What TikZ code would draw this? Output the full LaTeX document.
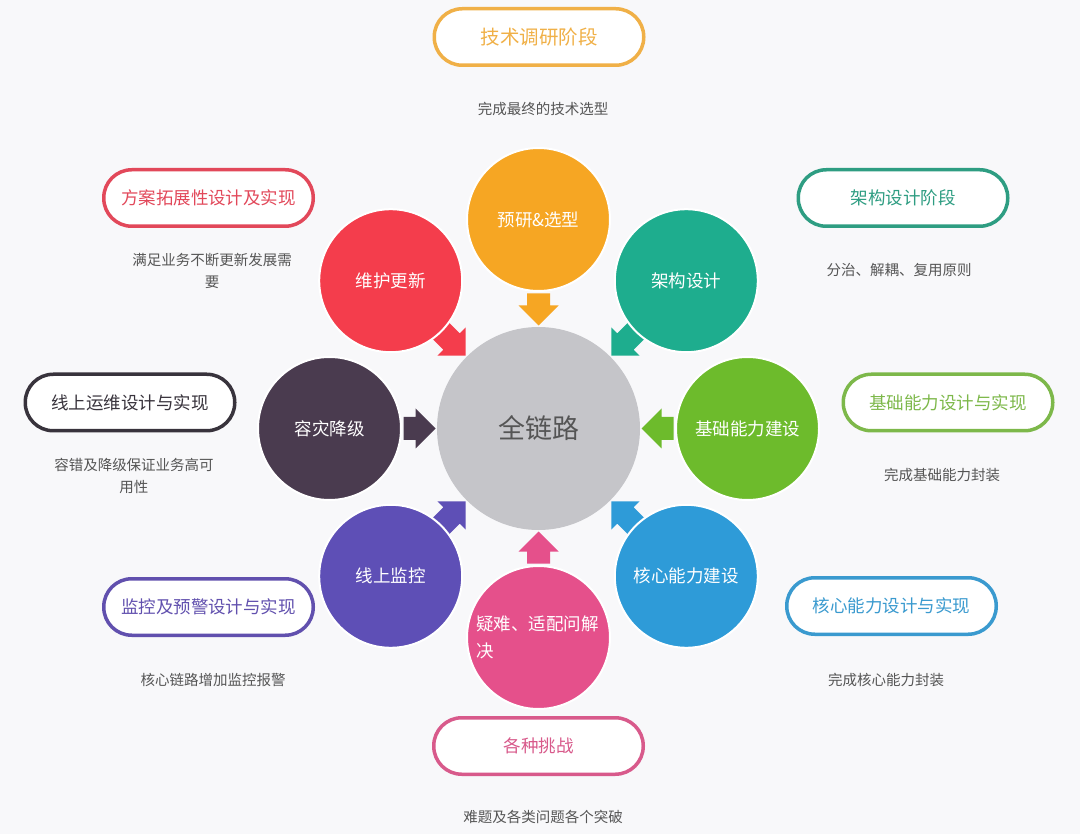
\documentclass[tikz,border=0pt]{standalone}
\usepackage{fontspec}
\setmainfont{Noto Sans CJK SC}
\usetikzlibrary{calc}
\definecolor{bgc}{HTML}{F8F8FA}
\definecolor{notegray}{HTML}{555555}
\definecolor{cgray}{HTML}{C5C5C9}
\definecolor{corange}{HTML}{F6A623}
\definecolor{cteal}{HTML}{1EAD8E}
\definecolor{cred}{HTML}{F43D4C}
\definecolor{cdark}{HTML}{4A3B4F}
\definecolor{cgreen}{HTML}{6DBB2C}
\definecolor{cpurple}{HTML}{5E4FB6}
\definecolor{cblue}{HTML}{2E9BD8}
\definecolor{cpink}{HTML}{E5508B}
\definecolor{porange}{HTML}{F0B047}
\definecolor{pred}{HTML}{E2485A}
\definecolor{pdark}{HTML}{38333C}
\definecolor{pteal}{HTML}{2E9D82}
\definecolor{pgreen}{HTML}{7DB84A}
\definecolor{pblue}{HTML}{3A9ACF}
\definecolor{ppurple}{HTML}{6150AE}
\definecolor{ppink}{HTML}{D85A8B}
\newcommand\blockarrow[3]{%
  \fill[#1, shift={(C.center)}, rotate=#2]
    (103,0) -- (123,20) -- (123,11.5) -- (#3,11.5) -- (#3,-11.5) -- (123,-11.5) -- (123,-20) -- cycle;}
\begin{document}
\begin{tikzpicture}[x=1pt,y=-1pt,
  bubble/.style={circle, minimum size=143pt, inner sep=0pt, draw=white, line width=2pt, text=white, font=\fontsize{17.5}{27}\selectfont},
  pill/.style={rounded corners=28pt, draw=#1, text=#1, line width=3.5pt, fill=white, minimum width=209.5pt, minimum height=56.5pt, inner sep=0pt, font=\fontsize{17.5}{21}\selectfont},
  note/.style={text=notegray, font=\fontsize{14.5}{22}\selectfont, align=center}]
\useasboundingbox (0,0) rectangle (1080,834);
\fill[bgc] (0,0) rectangle (1080,834);

% center
\node[circle, minimum size=203pt, inner sep=0pt, fill=cgray, text=notegray, font=\fontsize{27}{30}\selectfont] (C) at (538.5,428.5) {全链路};

% block arrows toward the center (under the outer circles)
\blockarrow{corange}{90}{135}
\blockarrow{cteal}{45}{146}
\blockarrow{cgreen}{0}{135}
\blockarrow{cblue}{-45}{146}
\blockarrow{cpink}{-90}{135}
\blockarrow{cpurple}{-135}{146}
\blockarrow{cdark}{180}{135}
\blockarrow{cred}{135}{146}

% outer circles
\node[bubble, fill=corange] (n1) at (538.5,219.5) {预研\&选型};
\node[bubble, fill=cteal]   (n2) at (686.3,280.7) {架构设计};
\node[bubble, fill=cgreen]  (n3) at (747.5,428.5) {基础能力建设};
\node[bubble, fill=cblue]   (n4) at (686.3,576.3) {核心能力建设};
\node[bubble, fill=cpink, text width=125pt, align=left] (n5) at (538.5,637.5) {疑难、适配问解\\决};
\node[bubble, fill=cpurple] (n6) at (390.7,576.3) {线上监控};
\node[bubble, fill=cdark]   (n7) at (329.5,428.5) {容灾降级};
\node[bubble, fill=cred]    (n8) at (390.7,280.7) {维护更新};

% pills
\node[pill=porange, font=\fontsize{19.5}{22}\selectfont] (p1) at (539,37) {技术调研阶段};
\node[pill=pteal]   (p2) at (903,198) {架构设计阶段};
\node[pill=pgreen]  (p3) at (948,402.5) {基础能力设计与实现};
\node[pill=pblue]   (p4) at (891.5,606) {核心能力设计与实现};
\node[pill=ppink]   (p5) at (538.5,746) {各种挑战};
\node[pill=ppurple] (p6) at (208.5,607) {监控及预警设计与实现};
\node[pill=pdark]   (p7) at (130,402.5) {线上运维设计与实现};
\node[pill=pred]    (p8) at (208.5,198) {方案拓展性设计及实现};

% notes
\node[note] (t1) at (543,109) {完成最终的技术选型};
\node[note] (t2) at (899,270) {分治、解耦、复用原则};
\node[note] (t3) at (942,475) {完成基础能力封装};
\node[note] (t4) at (886,680) {完成核心能力封装};
\node[note] (t5) at (543,817) {难题及各类问题各个突破};
\node[note] (t6) at (213,680) {核心链路增加监控报警};
\node[note] (t7) at (134,475.5) {容错及降级保证业务高可\\用性};
\node[note] (t8) at (212,271) {满足业务不断更新发展需\\要};
\end{tikzpicture}
\end{document}
